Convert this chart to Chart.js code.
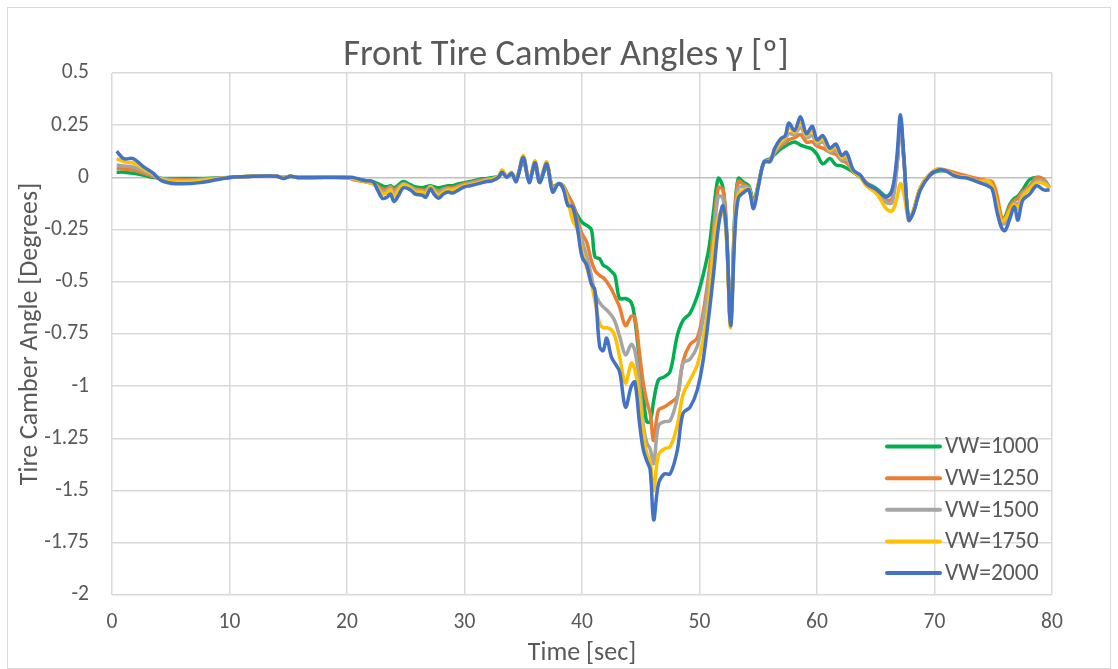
<!DOCTYPE html>
<html lang="en">
<head>
<meta charset="utf-8">
<title>Front Tire Camber Angles</title>
<script src="https://cdn.jsdelivr.net/npm/chart.js@4.4.1/dist/chart.umd.min.js"></script>
<style>
  html, body { margin: 0; padding: 0; background: #fff; }
  #wrap { width: 1118px; height: 669px; position: relative; }
</style>
</head>
<body>
<div id="wrap"><canvas id="camber"></canvas></div>
<script>
// ============================================================
// Front tire camber angle vs. time, one trace per VW setting
// ============================================================

const FONT = "Calibri, Carlito, Lato, sans-serif";
const TEXT = '#595959';
const GRID = '#d9d9d9';

const chartTitle = 'Front Tire Camber Angles γ [º]';

// Sample times [sec], shared by every trace (rows of 10)
const timeSec = [
    0.4, 1.0, 1.8, 2.7, 3.5, 4.2, 5.5, 7.5, 10, 12,
    14, 14.6, 15.2, 15.8, 17, 20, 20.5, 21.5, 22.2, 22.6,
    23, 23.4, 23.7, 24, 24.4, 24.8, 25.4, 25.8, 26.4, 26.7,
    27.1, 27.4, 27.8, 28.2, 28.6, 29, 29.5, 30, 30.5, 31.2,
    31.9, 32.4, 32.9, 33.2, 33.6, 34, 34.4, 35, 35.5, 36,
    36.4, 37, 37.5, 38, 38.4, 38.8, 39.2, 39.6, 40, 40.4,
    40.8, 41.1, 41.5, 41.8, 42.1, 42.5, 42.8, 43.2, 43.7, 44.2,
    44.5, 44.9, 45.2, 45.5, 45.8, 46.1, 46.5, 47, 47.5, 48.1,
    48.6, 49.2, 49.8, 50.3, 50.8, 51.2, 51.6, 52, 52.3, 52.65,
    53, 53.3, 53.8, 54.2, 54.6, 55, 55.5, 56, 56.4, 56.9,
    57.3, 57.6, 58.1, 58.6, 59.1, 59.6, 60, 60.5, 61.1, 61.6,
    62.1, 62.5, 63.1, 63.7, 64.2, 65.1, 65.9, 66.4, 66.8, 67.1,
    67.4, 67.8, 68.2, 68.8, 69.6, 70.3, 71, 71.6, 72.2, 72.9,
    73.6, 74.5, 74.9, 75.3, 75.7, 76, 76.4, 76.8, 77.1, 77.5,
    78.1, 78.7, 79.3, 79.8,
];

// Camber angle [deg]
const vw1000 = [
    0.025, 0.025, 0.02, 0.01, 0.0, -0.005, -0.005, -0.005, 0, 0.005,
    0.005, 0, 0.005, 0, 0, 0, -0.005, -0.015, -0.02, -0.03,
    -0.04, -0.045, -0.04, -0.05, -0.035, -0.02, -0.035, -0.045, -0.05, -0.045,
    -0.04, -0.045, -0.05, -0.045, -0.04, -0.04, -0.03, -0.025, -0.02, -0.01,
    -0.005, 0, 0.005, 0.02, 0.005, 0.015, -0.005, 0.075, -0.01, 0.055,
    -0.02, 0.05, -0.045, -0.03, -0.04, -0.085, -0.13, -0.18, -0.215, -0.23,
    -0.25, -0.38, -0.39, -0.42, -0.43, -0.45, -0.47, -0.58, -0.58, -0.60,
    -0.68, -0.88, -1.03, -1.17, -1.17, -1.07, -0.97, -0.955, -0.93, -0.76,
    -0.685, -0.65, -0.57, -0.47, -0.34, -0.16, -0.005, -0.05, -0.25, -0.69,
    -0.18, -0.005, -0.025, -0.04, -0.11, -0.035, 0.075, 0.09, 0.11, 0.135,
    0.15, 0.16, 0.17, 0.155, 0.145, 0.135, 0.11, 0.065, 0.09, 0.06,
    0.055, 0.045, 0.025, 0.0, -0.025, -0.055, -0.09, -0.06, 0.06, 0.26,
    0.08, -0.2, -0.16, -0.05, 0.01, 0.03, 0.03, 0.015, 0.005, 0,
    -0.015, -0.03, -0.05, -0.12, -0.2, -0.19, -0.13, -0.1, -0.09, -0.06,
    -0.01, 0, -0.01, -0.05,
];

const vw1250 = [
    0.045, 0.04, 0.035, 0.02, 0.005, -0.005, -0.01, -0.01, 0, 0.005,
    0.005, 0, 0.005, 0, 0, 0, -0.01, -0.02, -0.03, -0.04,
    -0.055, -0.055, -0.045, -0.06, -0.045, -0.03, -0.045, -0.055, -0.06, -0.06,
    -0.045, -0.055, -0.065, -0.055, -0.05, -0.05, -0.04, -0.03, -0.025, -0.015,
    -0.01, -0.005, 0.005, 0.025, 0.005, 0.02, -0.01, 0.085, -0.01, 0.065,
    -0.01, 0.06, -0.05, -0.03, -0.04, -0.085, -0.125, -0.2, -0.27, -0.31,
    -0.40, -0.445, -0.47, -0.48, -0.50, -0.535, -0.57, -0.62, -0.71, -0.665,
    -0.67, -0.845, -0.98, -1.07, -1.13, -1.26, -1.115, -1.10, -1.08, -1.05,
    -0.88, -0.80, -0.77, -0.65, -0.46, -0.25, -0.05, -0.06, -0.26, -0.70,
    -0.2, -0.02, -0.035, -0.05, -0.12, -0.04, 0.075, 0.085, 0.12, 0.15,
    0.165, 0.18, 0.19, 0.205, 0.17, 0.17, 0.15, 0.14, 0.12, 0.11,
    0.08, 0.07, 0.03, 0.005, -0.025, -0.065, -0.11, -0.1, 0.05, 0.26,
    0.08, -0.2, -0.165, -0.05, 0.015, 0.04, 0.035, 0.025, 0.015, 0.005,
    -0.005, -0.015, -0.02, -0.08, -0.19, -0.2, -0.14, -0.11, -0.1, -0.07,
    -0.04, 0, -0.01, -0.05,
];

const vw1500 = [
    0.06, 0.055, 0.05, 0.03, 0.01, -0.005, -0.015, -0.01, 0, 0.005,
    0.005, 0, 0.005, 0, 0, 0, -0.005, -0.02, -0.025, -0.045,
    -0.07, -0.065, -0.05, -0.075, -0.05, -0.03, -0.045, -0.06, -0.065, -0.07,
    -0.045, -0.06, -0.075, -0.06, -0.055, -0.055, -0.045, -0.035, -0.03, -0.02,
    -0.01, -0.005, 0.005, 0.03, 0.005, 0.02, -0.01, 0.09, -0.015, 0.07,
    -0.015, 0.065, -0.055, -0.03, -0.045, -0.10, -0.175, -0.22, -0.30, -0.38,
    -0.47, -0.555, -0.60, -0.62, -0.635, -0.66, -0.69, -0.76, -0.85, -0.80,
    -0.83, -0.99, -1.18, -1.27, -1.30, -1.37, -1.19, -1.17, -1.165, -1.06,
    -0.89, -0.87, -0.81, -0.68, -0.50, -0.30, -0.09, -0.10, -0.28, -0.70,
    -0.22, -0.05, -0.045, -0.05, -0.13, -0.04, 0.075, 0.08, 0.12, 0.16,
    0.18, 0.21, 0.205, 0.24, 0.19, 0.2, 0.16, 0.17, 0.12, 0.13,
    0.085, 0.09, 0.03, 0.005, -0.03, -0.07, -0.12, -0.12, 0.05, 0.26,
    0.08, -0.2, -0.165, -0.055, 0.01, 0.035, 0.03, 0.015, 0.005, 0,
    -0.015, -0.025, -0.045, -0.13, -0.22, -0.22, -0.17, -0.12, -0.13, -0.08,
    -0.05, -0.015, -0.02, -0.05,
];

const vw1750 = [
    0.09, 0.075, 0.07, 0.04, 0.015, -0.01, -0.02, -0.015, 0, 0.005,
    0.005, 0, 0.005, 0, 0, 0, -0.005, -0.02, -0.03, -0.05,
    -0.08, -0.075, -0.06, -0.09, -0.06, -0.035, -0.05, -0.07, -0.07, -0.08,
    -0.045, -0.065, -0.085, -0.07, -0.06, -0.06, -0.05, -0.04, -0.035, -0.025,
    -0.015, -0.01, 0.005, 0.035, 0.005, 0.025, -0.015, 0.105, -0.02, 0.08,
    -0.02, 0.075, -0.06, -0.03, -0.05, -0.11, -0.205, -0.25, -0.35, -0.43,
    -0.51, -0.59, -0.70, -0.72, -0.72, -0.73, -0.76, -0.86, -0.985, -0.89,
    -0.92, -1.05, -1.21, -1.32, -1.36, -1.50, -1.33, -1.30, -1.29, -1.19,
    -1.04, -0.97, -0.90, -0.78, -0.59, -0.33, -0.19, -0.16, -0.30, -0.72,
    -0.25, -0.08, -0.06, -0.055, -0.14, -0.04, 0.07, 0.08, 0.13, 0.17,
    0.19, 0.24, 0.215, 0.265, 0.2, 0.225, 0.17, 0.185, 0.13, 0.145,
    0.095, 0.105, 0.03, 0.0, -0.04, -0.08, -0.15, -0.16, -0.10, -0.03,
    -0.08, -0.2, -0.16, -0.05, 0.015, 0.04, 0.03, 0.015, 0.005, 0,
    -0.02, -0.015, -0.04, -0.12, -0.21, -0.2, -0.16, -0.13, -0.15, -0.09,
    -0.055, -0.025, -0.03, -0.05,
];

const vw2000 = [
    0.125, 0.09, 0.09, 0.05, 0.02, -0.015, -0.03, -0.025, 0, 0.005,
    0.005, -0.005, 0.005, 0, 0, 0, 0, -0.015, -0.02, -0.06,
    -0.10, -0.095, -0.08, -0.115, -0.085, -0.05, -0.06, -0.08, -0.085, -0.095,
    -0.055, -0.08, -0.10, -0.08, -0.07, -0.075, -0.06, -0.045, -0.04, -0.03,
    -0.02, -0.015, 0, 0.025, 0, 0.02, -0.02, 0.095, -0.025, 0.07,
    -0.025, 0.065, -0.07, -0.03, -0.055, -0.135, -0.14, -0.24, -0.38, -0.42,
    -0.51, -0.54, -0.81, -0.83, -0.77, -0.86, -0.89, -0.93, -1.10, -1.0,
    -0.98, -1.18, -1.30, -1.355, -1.40, -1.64, -1.47, -1.42, -1.42, -1.31,
    -1.13, -1.10, -1.02, -0.88, -0.66, -0.46, -0.24, -0.135, -0.27, -0.71,
    -0.28, -0.10, -0.07, -0.06, -0.15, -0.045, 0.075, 0.075, 0.14, 0.185,
    0.2, 0.26, 0.225, 0.29, 0.21, 0.245, 0.18, 0.2, 0.14, 0.16,
    0.105, 0.12, 0.035, 0.01, -0.03, -0.06, -0.095, -0.06, 0.10, 0.30,
    0.095, -0.205, -0.17, -0.06, 0.01, 0.035, 0.03, 0.01, 0, -0.005,
    -0.02, -0.04, -0.055, -0.16, -0.24, -0.255, -0.2, -0.14, -0.205, -0.11,
    -0.08, -0.04, -0.06, -0.06,
];

const seriesLabels = ['VW=1000', 'VW=1250', 'VW=1500', 'VW=1750', 'VW=2000'];
const seriesValues = [vw1000, vw1250, vw1500, vw1750, vw2000];
const seriesColors = ['#00B050', '#ED7D31', '#A5A5A5', '#FFC000', '#4472C4'];

// Axis ranges and steps
const xMin = 0, xMax = 80, xStep = 10;
const yMin = -2, yMax = 0.5, yStep = 0.25;

// ── Plugins ──

// light frame around the whole chart + the title line above the plot
const chartFrame = {
    id: 'chartFrame',
    beforeDraw(chart) {
        const { ctx, width, height } = chart;
        ctx.save();
        ctx.strokeStyle = GRID;
        ctx.lineWidth = 1;
        ctx.strokeRect(7.5, 7.5, width - 15, height - 8);

        ctx.fillStyle = TEXT;
        ctx.font = `36.5px ${FONT}`;
        ctx.textAlign = 'center';
        ctx.textBaseline = 'middle';
        ctx.fillText(chartTitle, 566, 56);
        ctx.restore();
    },
};

// legend stacked in the lower right corner of the plot
const insideLegend = {
    id: 'insideLegend',
    afterDatasetsDraw(chart) {
        const { ctx, chartArea } = chart;
        const sets = chart.data.datasets;
        const x0 = chartArea.right - 165;
        ctx.save();
        ctx.font = `23.5px ${FONT}`;
        ctx.textBaseline = 'middle';
        ctx.textAlign = 'left';
        sets.forEach((ds, i) => {
            const y = chartArea.bottom - 22 - (sets.length - 1 - i) * 31.6;
            ctx.strokeStyle = ds.borderColor;
            ctx.lineWidth = 4;
            ctx.lineCap = 'round';
            ctx.beginPath();
            ctx.moveTo(x0, y);
            ctx.lineTo(x0 + 53, y);
            ctx.stroke();
            ctx.fillStyle = TEXT;
            ctx.fillText(ds.label, x0 + 58, y + 1);
        });
        ctx.restore();
    },
};

// ── Helpers ──

function formatTick(v) {
    return String(Number(v.toFixed(2)));
}

function buildDatasets() {
    const n = seriesLabels.length;
    return seriesLabels.map((label, s) => ({
        label,
        data: timeSec.map((t, i) => ({ x: t, y: seriesValues[s][i] })),
        borderColor: seriesColors[s],
        backgroundColor: seriesColors[s],
        borderWidth: 3.5,
        pointRadius: 0,
        tension: 0.35,
        fill: false,
        // last series ends up on top
        order: n - s,
    }));
}

// ── Chart ──

new Chart(document.getElementById('camber'), {
    type: 'line',
    data: { datasets: buildDatasets() },
    options: {
        responsive: true,
        maintainAspectRatio: false,
        animation: false,
        devicePixelRatio: 1,
        layout: { padding: { left: 0, right: 66, top: 73, bottom: 0 } },
        plugins: {
            legend: { display: false },
            tooltip: { enabled: false },
            title: { display: false },
        },
        scales: {
            x: {
                type: 'linear',
                min: xMin,
                max: xMax,
                ticks: {
                    stepSize: xStep,
                    color: TEXT,
                    padding: 15,
                    font: { family: FONT, size: 21.5 },
                    maxRotation: 0,
                },
                grid: { color: GRID, lineWidth: 1.5, drawTicks: false },
                border: { display: false },
                title: {
                    display: true,
                    text: 'Time [sec]',
                    color: TEXT,
                    font: { family: FONT, size: 26 },
                    padding: { top: 0, bottom: 0 },
                },
                afterFit(scale) { scale.height = 74; },
            },
            y: {
                min: yMin,
                max: yMax,
                ticks: {
                    stepSize: yStep,
                    color: TEXT,
                    padding: 23,
                    font: { family: FONT, size: 21.5 },
                    callback: formatTick,
                },
                grid: {
                    color: ctx => (ctx.tick && ctx.tick.value === 0 ? '#bfbfbf' : GRID),
                    lineWidth: 1.5,
                    drawTicks: false,
                },
                border: { display: false },
                title: {
                    display: true,
                    text: 'Tire Camber Angle [Degrees]',
                    color: TEXT,
                    font: { family: FONT, size: 26 },
                    padding: { top: 15, bottom: 0 },
                },
                afterFit(scale) { scale.width = 112; },
            },
        },
    },
    plugins: [chartFrame, insideLegend],
});
</script>
</body>
</html>
